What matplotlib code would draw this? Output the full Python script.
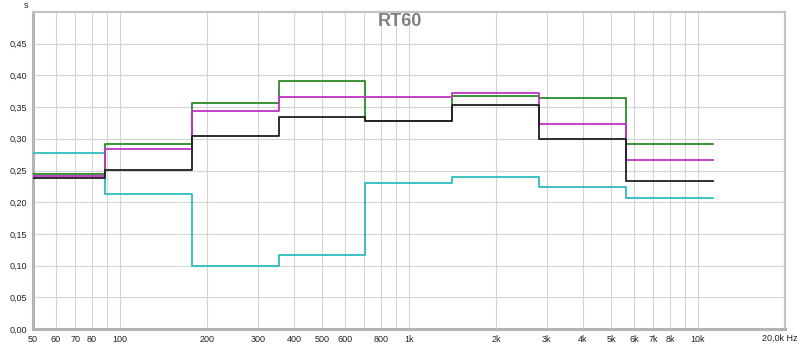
import matplotlib
matplotlib.use("Agg")
import matplotlib.pyplot as plt
from matplotlib.ticker import FixedLocator, NullLocator

# Octave band edges (Hz) and RT60 values (s)
band_edges = [44.2, 88.4, 176.8, 353.6, 707.1, 1414, 2828, 5657, 11314]
rt_green   = [0.244, 0.292, 0.356, 0.391, 0.328, 0.367, 0.364, 0.292]
rt_magenta = [0.241, 0.284, 0.344, 0.366, 0.366, 0.372, 0.324, 0.267]
rt_black   = [0.238, 0.251, 0.304, 0.334, 0.328, 0.353, 0.300, 0.234]
rt_cyan    = [0.277, 0.213, 0.100, 0.117, 0.230, 0.240, 0.224, 0.207]

series = [
    (rt_cyan, '#2ebcbc'),
    (rt_green, '#2a8a2a'),
    (rt_magenta, '#c232c2'),
    (rt_black, '#1e1e1e'),
]

x_ticks = [50, 60, 70, 80, 100, 200, 300, 400, 500, 600, 800, 1000, 2000,
           3000, 4000, 5000, 6000, 7000, 8000, 10000]
x_tick_labels = ['50', '60', '70', '80', '100', '200', '300', '400', '500',
                 '600', '800', '1k', '2k', '3k', '4k', '5k', '6k', '7k', '8k', '10k']
x_grid = [60, 70, 80, 90, 100, 200, 300, 400, 500, 600, 700, 800, 900, 1000,
          2000, 3000, 4000, 5000, 6000, 7000, 8000, 9000, 10000]
y_ticks = [0.00, 0.05, 0.10, 0.15, 0.20, 0.25, 0.30, 0.35, 0.40, 0.45]

plt.rcParams['font.family'] = ['Liberation Sans', 'DejaVu Sans']

fig = plt.figure(figsize=(8, 3.45), dpi=100)
ax = fig.add_axes([33/800, 1-329/345, (785-33)/800, (329-12)/345])
ax.set_xscale('log')
ax.set_xlim(50, 20000)
ax.set_ylim(0, 0.5)

for xg in x_grid:
    ax.axvline(xg, color='#d4d4d4', lw=0.8, zorder=0)
for yg in y_ticks[1:]:
    ax.axhline(yg, color='#d4d4d4', lw=0.8, zorder=0)

for vals, col in series:
    ax.step(band_edges, vals + [vals[-1]], where='post', color=col, lw=1.3, zorder=3)

ax.xaxis.set_major_locator(FixedLocator(x_ticks))
ax.xaxis.set_minor_locator(NullLocator())
ax.set_xticklabels(x_tick_labels)
ax.set_yticks(y_ticks)
ax.set_yticklabels([f"{v:.2f}".replace('.', ',') for v in y_ticks])
ax.tick_params(axis='both', length=0, labelsize=6.5, colors='#222222')
ax.tick_params(axis='x', pad=4)
ax.tick_params(axis='y', pad=4)

for side in ['left', 'bottom']:
    ax.spines[side].set_color('#b4b4b4')
    ax.spines[side].set_linewidth(2.2)
for side in ['top', 'right']:
    ax.spines[side].set_color('#c4c4c4')
    ax.spines[side].set_linewidth(1.6)

fig.text(400/800, 1-21/345, 'RT60', ha='center', va='center',
         fontsize=13, fontweight='bold', color='#808080')
fig.text(26/800, 1-6/345, 's', ha='center', va='center', fontsize=6.5, color='#222222')
fig.text(798/800, 1-338/345, '20,0k Hz', ha='right', va='center', fontsize=6.5, color='#222222')

fig.savefig('out.png', dpi=100)
